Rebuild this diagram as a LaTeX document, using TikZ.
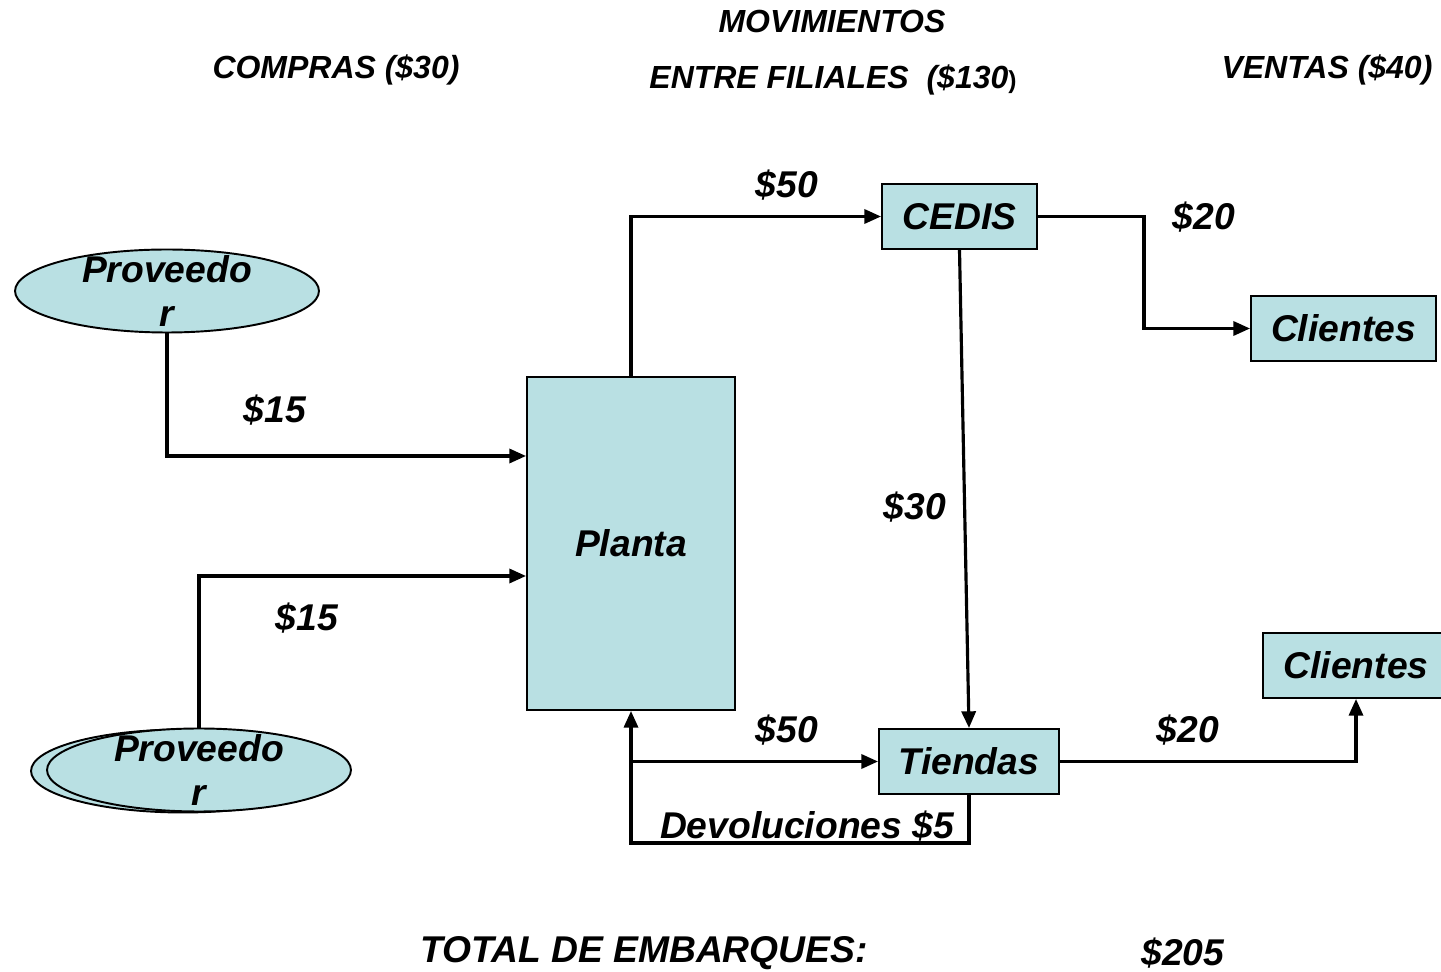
\documentclass[tikz,border=0pt]{standalone}
\usepackage{fontspec}
\setmainfont{Liberation Sans}
\usetikzlibrary{arrows.meta}
\usetikzlibrary{shapes.geometric}
\definecolor{cajafill}{RGB}{185,224,227}
\tikzset{
  txt/.style={font=\fontsize{21.2}{25.5}\selectfont\bfseries\itshape},
  head/.style={font=\fontsize{18.2}{21}\selectfont\bfseries\itshape},
  caja/.style={draw,line width=1.1pt,fill=cajafill,inner sep=0pt},
  prov/.style={draw,ellipse,line width=1.1pt,fill=cajafill,inner sep=0pt,minimum width=6.08cm,minimum height=1.66cm},
  flujo/.style={line width=1.8pt,-{Triangle[length=9.5pt,width=8pt]}},
  linea/.style={line width=1.8pt}
}
\begin{document}
\begin{tikzpicture}[x=0.02cm,y=-0.02cm]
    \useasboundingbox (0,0) rectangle (1441,972);
    % encabezados
    \node[head] (H1) at (832,22) {MOVIMIENTOS};
    \node[head] (H2) at (833,80) {ENTRE FILIALES\ \ (\$130{\upshape\fontsize{14}{14}\selectfont)}};
    \node[head] (H3) at (336,70) {COMPRAS (\$30)};
    \node[head] (H4) at (1327,70) {VENTAS (\$40)};
    % cajas
    \node[caja,minimum width=4.16cm,minimum height=6.66cm] (Planta) at (631,543.5) {};
    \node[txt] at (Planta) {Planta};
    \node[caja,minimum width=3.1cm,minimum height=1.3cm,txt] (CEDIS) at (959.5,216.5) {CEDIS};
    \node[caja,minimum width=3.7cm,minimum height=1.3cm,txt] (Cli1) at (1343.5,328.5) {Clientes};
    \node[caja,minimum width=3.72cm,minimum height=1.3cm,txt] (Cli2) at (1356,665.5) {Clientes};
    \node[caja,minimum width=3.6cm,minimum height=1.3cm,txt] (Tiendas) at (969,761.5) {Tiendas};
    % proveedores
    \node[prov] (P1) at (167,291) {};
    \node[txt,align=center] at (P1) {Proveedo\\r};
    \node[prov] (P2b) at (183,771) {};
    \node[prov] (P2) at (199,770) {};
    \node[txt,align=center] at (P2) {Proveedo\\r};
    % flujos
    \draw[flujo] (P1.south) |- (Planta.west |- 0,456);
    \draw[flujo] (P2.north) |- (Planta.west |- 0,576);
    \draw[flujo] (Planta.north) |- (CEDIS.west);
    \draw[flujo] (CEDIS.east) -- ++(106,0) |- (Cli1.west);
    \draw[flujo] (CEDIS.south) -- (Tiendas.north);
    \draw[flujo] (Planta.south |- Tiendas.west) -- (Tiendas.west);
    \draw[flujo] (Tiendas.south) -- ++(0,48) -| (Planta.south);
    \draw[flujo] (Tiendas.east) -| (Cli2.south);
    % montos
    \node[txt] (M1) at (275,410) {\$15};
    \node[txt] (M2) at (307,618) {\$15};
    \node[txt] (M3) at (787,185) {\$50};
    \node[txt] (M4) at (1204,217) {\$20};
    \node[txt] (M5) at (915,507) {\$30};
    \node[txt] (M6) at (787,730) {\$50};
    \node[txt] (M7) at (1188,730) {\$20};
    \node[txt] (Dev) at (807,826) {Devoluciones \$5};
    \node[txt] (Tot) at (644,953) {TOTAL DE EMBARQUES:};
    \node[txt] (Tot2) at (1183,953) {\$205};
\end{tikzpicture}
\end{document}
